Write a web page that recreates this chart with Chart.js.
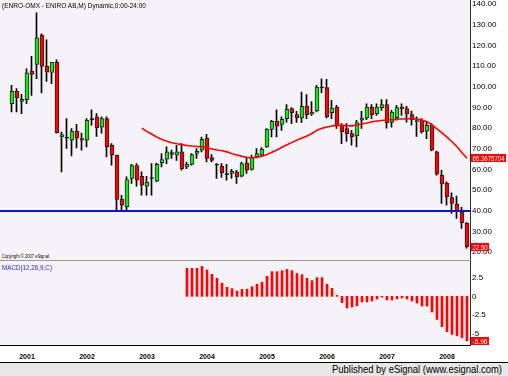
<!DOCTYPE html>
<html><head><meta charset="utf-8">
<script src="https://cdn.jsdelivr.net/npm/chart.js@4/dist/chart.umd.min.js"></script>
<style>
html,body{margin:0;padding:0;background:#fff;}
#wrap{position:relative;width:508px;height:376px;overflow:hidden;background:#fff;font-family:"Liberation Sans",Arial,sans-serif;}
canvas{position:absolute;left:0;}
#cTop{top:0;}
#cMacd{top:261px;}
.txt{position:absolute;white-space:nowrap;transform-origin:0 0;line-height:1;}
#title{left:2px;top:2px;font-size:8px;color:#000;}
#copy{left:2px;top:254px;font-size:5px;color:#000;}
#macdLbl{left:2px;top:264px;font-size:8px;color:#1f1fff;}
#sep{position:absolute;left:0;top:260px;width:471px;height:1px;background:#9a9a9a;}
#footer{position:absolute;left:0;top:362px;width:508px;height:14px;background:#e6e6e6;border-top:1px solid #000;box-sizing:border-box;}
#pub{left:332px;top:364px;font-size:11px;color:#000;}
</style></head>
<body><div id="wrap">
<canvas id="cTop" width="508" height="260"></canvas>
<div id="sep"></div>
<canvas id="cMacd" width="508" height="101"></canvas>
<div id="footer"></div>
<div class="txt" id="title">(ENRO-OMX - ENIRO AB,M) Dynamic,0:00-24:00</div>
<div class="txt" id="copy">Copyright © 2007 eSignal.</div>
<div class="txt" id="macdLbl">MACD(12,26,9,C)</div>
<div class="txt" id="pub">Published by eSignal (www.esignal.com)</div>
</div>
<script>
// ---------- DATA (monthly, first bar Oct 2000) ----------
const firstYear = 2000, firstMonth = 10;
const openP = [91.8,97.8,92.9,93.8,107.6,110.8,125.0,109.9,107.0,111.8,
 75.7,75.1,74.1,78.6,74.9,74.1,84.1,85.4,80.5,84.6,
 71.7,66.9,45.5,41.9,55.6,61.9,56.7,51.9,55.6,54.3,
 63.3,64.9,68.2,66.9,68.5,61.2,62.4,67.7,69.3,75.2,
 65.7,62.0,61.5,57.5,58.0,58.8,56.7,63.1,60.0,66.0,
 66.9,70.9,79.4,83.3,81.8,84.6,89.4,86.5,84.9,90.7,
 86.7,88.3,99.4,99.6,87.5,90.2,81.4,79.8,77.3,76.2,
 83.8,84.9,90.2,87.0,89.9,91.4,82.7,85.1,90.2,89.4,
 86.5,83.0,83.8,78.5,81.4,68.5,57.2,53.2,46.4,43.2,
 39.5,33.9];
const highP = [100.7,99.1,96.3,108.7,114.7,135.8,125.6,122.7,111.8,113.1,
 78.1,84.6,79.8,81.8,77.6,84.6,88.9,87.0,85.4,85.4,
 72.5,66.9,47.5,56.4,62.4,62.8,58.8,56.7,62.8,63.1,
 67.7,70.9,69.3,71.7,72.5,63.6,67.7,70.1,75.7,77.0,
 67.2,62.8,62.8,62.4,60.0,59.6,63.6,66.0,66.9,70.1,
 70.6,79.8,83.8,88.9,85.4,91.4,89.9,88.1,97.4,96.2,
 92.9,100.7,103.9,103.6,93.4,91.0,82.2,82.2,78.9,83.8,
 88.1,91.8,91.4,91.8,93.8,93.8,88.6,91.0,91.8,90.5,
 88.3,85.4,84.6,82.9,82.2,68.9,59.6,54.0,48.6,47.1,
 41.6,34.2];
const lowP = [87.8,87.8,87.0,91.8,95.8,103.9,97.0,102.6,101.5,77.5,
 58.8,70.1,66.5,70.4,69.3,70.9,81.4,76.0,77.6,66.0,
 62.0,40.3,40.3,40.0,53.2,51.9,47.5,47.5,47.5,54.0,
 61.2,62.8,65.3,64.4,59.6,60.4,62.0,65.3,68.5,63.6,
 63.6,55.6,56.1,54.8,55.6,53.2,56.4,58.0,59.6,65.6,
 66.4,70.6,75.7,75.7,78.9,82.9,82.2,82.7,82.7,84.6,
 86.2,87.8,97.1,84.9,84.6,79.8,72.5,73.6,71.7,70.9,
 79.8,84.1,84.6,86.2,88.6,80.0,80.5,83.8,86.2,82.9,
 81.4,76.0,77.6,74.9,68.9,57.2,43.5,42.7,38.7,36.3,
 31.4,21.8];
const closeP = [97.8,94.7,93.9,106.8,106.0,123.7,109.9,107.1,111.8,77.8,
 76.9,75.1,78.5,75.1,74.1,83.8,84.1,80.2,84.6,70.9,
 66.9,45.5,42.7,55.1,61.9,54.8,52.4,53.8,55.6,62.4,
 64.8,68.5,67.2,68.5,60.4,62.4,67.2,68.8,74.6,65.3,
 64.4,62.0,58.3,57.5,59.1,56.4,62.8,59.6,66.0,67.7,
 69.8,79.4,83.3,80.9,84.3,89.1,87.5,84.9,90.5,86.5,
 87.8,99.9,99.4,85.4,89.7,81.0,78.1,77.3,75.7,82.7,
 84.9,90.2,86.5,90.2,91.4,82.5,87.8,89.9,89.4,86.7,
 84.1,83.6,78.1,81.4,69.3,57.7,52.9,46.7,43.5,39.5,
 34.2,22.5];
const movingAvg = Array(26).fill(null).concat([
 80.0,78.3,77.0,75.6,74.5,73.6,72.9,72.4,72.0,71.6,
 71.3,71.1,70.9,70.5,69.9,69.4,69.0,68.5,67.6,67.0,
 66.3,65.8,65.6,65.9,66.4,67.2,68.3,69.4,70.7,71.9,
 73.1,74.2,75.2,76.2,77.4,79.0,79.9,80.5,81.0,81.3,
 81.4,81.2,81.1,81.5,82.0,82.5,83.1,83.4,83.7,84.0,
 84.1,84.3,84.4,84.5,84.6,84.4,83.9,83.1,81.6,79.6,
 77.7,75.6,73.4,71.0,68.1,65.3675704]);
const macdHist = Array(35).fill(null).concat([
 3.75,3.75,3.75,4.0,3.53,2.95,2.41,1.74,1.2,1.03,
 0.71,0.94,0.94,1.29,1.61,1.9,2.68,3.3,3.3,3.42,
 3.6,3.44,3.06,2.9,2.41,2.1,2.5,2.5,1.61,1.07,
 0.12,-0.85,-1.56,-1.43,-1.25,-0.76,-0.76,-0.63,-0.36,-0.09,
 -0.49,-0.49,-0.31,-0.22,-0.36,-0.63,-0.9,-1.3,-1.3,-2.1,
 -3.1,-4.06,-4.73,-5.1,-5.3,-5.55,-5.96]);
const supportLevel = [40];
const priceTicks = [20,30,40,50,60,70,80,90,100,110,120,130,140];
const macdTicks = [2.5,0,-2.5,-5];
const macdTickLabels = ['2.5','0','-2.5','-5'];
const yearLabels = ['2001','2002','2003','2004','2005','2006','2007','2008'];

// categories (months)
const months = closeP.map((_, k) => {
  const m0 = firstMonth - 1 + k;
  return (firstYear + Math.floor(m0 / 12)) + '-' + String(m0 % 12 + 1).padStart(2, '0');
});
const yearTickIdx = yearLabels.map(y => months.indexOf(y + '-01'));

// ---------- STYLE ----------
const PLOT_BG = '#f5f3f7', UP = '#19e619', DOWN = '#ff0000', AXIS = '#303030';
const FONT = '"Liberation Sans", Arial, sans-serif';
Chart.defaults.font.family = FONT;
Chart.defaults.color = '#000';
const X_MIN = -2.4, X_MAX = 91.6, AXIS_W = 38;

const noPad = s => { s.paddingTop = 0; s.paddingBottom = 0; s.paddingLeft = 0; s.paddingRight = 0; };
const bgPlugin = {id:'plotBg', beforeDraw(c){const {ctx, chartArea:a}=c; ctx.save(); ctx.fillStyle=PLOT_BG; ctx.fillRect(a.left,a.top,a.right-a.left,a.bottom-a.top); ctx.restore();}};
const wickShift = {id:'wickShift',
  beforeDatasetDraw(c, args){ if (c.data.datasets[args.index].isWick){ c.ctx.save(); c.ctx.translate(-0.5,0);} },
  afterDatasetDraw(c, args){ if (c.data.datasets[args.index].isWick){ c.ctx.restore(); } }};
const levelPlugin = {id:'level', afterDatasetsDraw(c, args, o){
  if (!o.values) return;
  const {ctx, chartArea:a} = c; const s = c.scales.y;
  ctx.save(); ctx.strokeStyle = o.color; ctx.lineWidth = 2;
  o.values.forEach(v => { const y = Math.round(s.getPixelForValue(v)); ctx.beginPath(); ctx.moveTo(a.left, y); ctx.lineTo(a.right, y); ctx.stroke(); });
  ctx.restore(); }};
const boxPlugin = {id:'valBoxes', afterDraw(c, args, o){
  if (!o.boxes) return;
  const {ctx, chartArea:a} = c; const s = c.scales.y;
  ctx.save(); ctx.font = '7.5px ' + FONT; ctx.textBaseline = 'middle';
  o.boxes.forEach(b => {
    const y = Math.round(s.getPixelForValue(b.value));
    const w = Math.min(ctx.measureText(b.text).width, b.maxW);
    ctx.fillStyle = '#ff0000'; ctx.fillRect(a.right + 1, y - 4, w + 3, 8);
    ctx.fillStyle = '#fff'; ctx.fillText(b.text, a.right + 2.5, y + 0.5, b.maxW);
  });
  ctx.restore(); }};

const idx = closeP.map((_, i) => i);
const wickData = idx.map(i => ({x:i, y:[lowP[i], highP[i]]}));
const bodyData = idx.map(i => ({x:i, y:[openP[i], closeP[i]]}));
const bodyColors = idx.map(i => closeP[i] > openP[i] ? UP : (closeP[i] < openP[i] ? DOWN : '#000'));
const maData = idx.map(i => ({x:i, y:movingAvg[i]}));
const macdData = idx.filter(i => macdHist[i] !== null).map(i => ({x:i, y:macdHist[i]}));

new Chart(document.getElementById('cTop'), {
  type:'bar',
  data:{ labels: months, datasets:[
    {type:'line', data:maData, borderColor:'#ff0000', borderWidth:1.6, pointRadius:0, spanGaps:false, order:1},
    {data:bodyData, backgroundColor:bodyColors, borderColor:'#202020', borderWidth:1, borderSkipped:false, barThickness:4, minBarLength:1, grouped:false, order:2},
    {data:wickData, isWick:true, backgroundColor:'#000', borderWidth:0, barThickness:1, grouped:false, order:3}
  ]},
  options:{
    animation:false, responsive:false, events:[],
    layout:{padding:0},
    plugins:{legend:{display:false}, tooltip:{enabled:false},
      level:{values:supportLevel, color:'#0a14c8'},
      valBoxes:{boxes:[
        {value:movingAvg[movingAvg.length-1], text:String(movingAvg[movingAvg.length-1]), maxW:32},
        {value:closeP[closeP.length-1], text:closeP[closeP.length-1].toFixed(2), maxW:15}
      ]}},
    scales:{
      x:{type:'linear', min:X_MIN, max:X_MAX, display:false, offset:false},
      y:{position:'right', min:16.13, max:142.03,
         afterFit:s=>{s.width=AXIS_W; noPad(s);},
         afterBuildTicks:s=>{s.ticks = priceTicks.map(v=>({value:v}));},
         grid:{display:false, drawTicks:false},
         border:{display:true, color:AXIS, width:1},
         ticks:{autoSkip:false, padding:2, font:{size:8}, color:'#000', callback:v=>Number(v).toFixed(2)}}
    }
  },
  plugins:[bgPlugin, wickShift, levelPlugin, boxPlugin]
});

new Chart(document.getElementById('cMacd'), {
  type:'bar',
  data:{ labels: months, datasets:[
    {data:macdData, backgroundColor:'#ff0000', borderWidth:0, barThickness:2, grouped:false}
  ]},
  options:{
    animation:false, responsive:false, events:[],
    layout:{padding:0},
    plugins:{legend:{display:false}, tooltip:{enabled:false},
      valBoxes:{boxes:[{value:macdHist[macdHist.length-1], text:macdHist[macdHist.length-1].toFixed(2), maxW:15}]}},
    scales:{
      x:{type:'linear', min:X_MIN, max:X_MAX, offset:false,
         afterFit:s=>{s.height=17; noPad(s);},
         afterBuildTicks:s=>{s.ticks = yearTickIdx.map(v=>({value:v}));},
         grid:{display:false, drawTicks:false},
         border:{display:true, color:'#000', width:1},
         ticks:{autoSkip:false, maxRotation:0, padding:8, font:{size:7, weight:'bold'}, color:'#000',
                callback:v=>yearLabels[yearTickIdx.indexOf(v)]}},
      y:{position:'right', min:-6.52, max:4.73,
         afterFit:s=>{s.width=AXIS_W; noPad(s);},
         afterBuildTicks:s=>{s.ticks = macdTicks.map(v=>({value:v}));},
         grid:{display:false, drawTicks:false},
         border:{display:true, color:AXIS, width:1},
         ticks:{autoSkip:false, padding:2, font:{size:8}, color:'#000', callback:v=>macdTickLabels[macdTicks.indexOf(v)]}}
    }
  },
  plugins:[bgPlugin, boxPlugin]
});

// fit narrow bitmap-like fonts to the reference widths
function fitW(id, w){ const el=document.getElementById(id); const cw=el.getBoundingClientRect().width; if(cw>0) el.style.transform='scaleX('+(w/cw)+')'; }
fitW('title', 144); fitW('copy', 48); fitW('macdLbl', 50); fitW('pub', 170);
</script>
</body></html>
